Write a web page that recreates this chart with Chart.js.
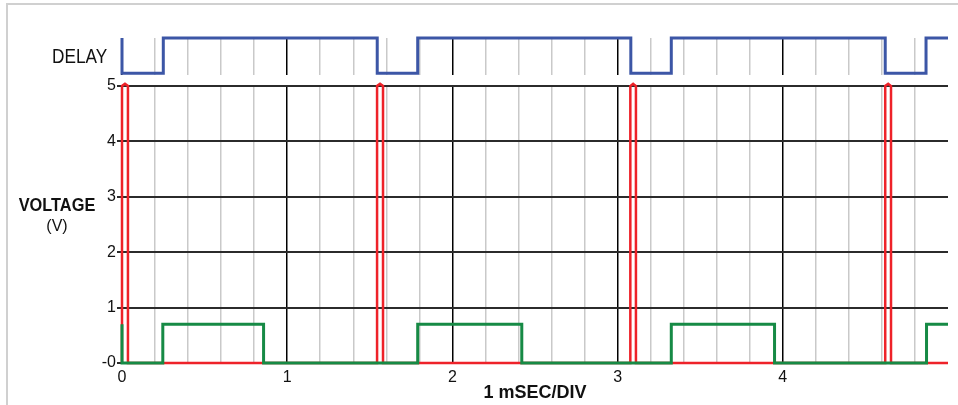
<!DOCTYPE html>
<html>
<head>
<meta charset="utf-8">
<script src="https://cdn.jsdelivr.net/npm/chart.js@4.4.1/dist/chart.umd.min.js"></script>
<style>
  html, body { margin: 0; padding: 0; background: #fff; }
  #wrap { position: relative; width: 958px; height: 405px; overflow: hidden; }
  #frame { position: absolute; left: 6px; top: 3px; width: 960px; height: 410px;
           border-left: 2px solid #d0d0d0; border-top: 2px solid #d0d0d0; }
  canvas { position: absolute; left: 0; top: 0; }
</style>
</head>
<body>
<div id="wrap">
  <div id="frame"></div>
  <canvas id="voltChart" width="958" height="405"></canvas>
  <canvas id="delayChart" width="958" height="82"></canvas>
</div>
<script>
// time in divisions (1 mSEC/DIV)
const delayTimes  = [0, 0, 0.25, 0.25, 1.545, 1.545, 1.79, 1.79, 3.08, 3.08, 3.325, 3.325, 4.62, 4.62, 4.867, 4.867, 5.0];
const delayLevels = [1, 0, 0,    1,    1,     0,     0,    1,    1,    0,    0,     1,     1,    0,    0,     1,     1];

const redTimes  = [0, 0, 0.018, 0.036, 0.036, 1.544, 1.544, 1.562, 1.58, 1.58, 3.077, 3.077, 3.094, 3.111, 3.111, 4.62, 4.62, 4.638, 4.655, 4.655, 5.0];
const redVolts  = [0, 5, 5.04,  5,     0,     0,     5,     5.04,  5,    0,    0,     5,     5.04,  5,     0,     0,    5,    5.04,  5,     0,     0];

const greenTimes = [0,   0, 0.247, 0.247, 0.857, 0.857, 1.79, 1.79, 2.42, 2.42, 3.325, 3.325, 3.95, 3.95, 4.87, 4.87, 5.0];
const greenVolts = [0.7, 0, 0,     0.7,   0.7,   0,     0,    0.7,  0.7,  0,    0,     0.7,   0.7,  0,    0,    0.7,  0.7];

const voltTicks = [0, 1, 2, 3, 4, 5];
const timeLabels = ['0', '1', '2', '3', '4'];

const sans = '"Liberation Sans", Arial, sans-serif';

function pts(xs, ys) {
    return xs.map((x, i) => ({x: x, y: ys[i]}));
}

function isWhole(v) {
    return Math.abs(v - Math.round(v)) < 1e-6;
}

function gridColor(ctx) {
    const v = ctx.tick.value;
    if (v > 4.99) return 'rgba(0,0,0,0)';
    return isWhole(v) ? '#000' : '#c9c9c9';
}

// narrow text: squeeze a normal face horizontally
function narrowText(ctx, text, x, y, font, squeeze) {
    ctx.save();
    ctx.font = font;
    ctx.translate(x, y);
    ctx.scale(squeeze, 1);
    ctx.fillText(text, 0, 0);
    ctx.restore();
}

function timeAxis(showLabels) {
    return {
        type: 'linear',
        min: 0,
        max: 5,
        border: {display: false},
        grid: {color: gridColor, lineWidth: 1.5, drawTicks: false},
        ticks: {
            display: showLabels,
            stepSize: 0.2,
            autoSkip: false,
            maxRotation: 0,
            padding: 5,
            color: '#111',
            font: {family: sans, size: 16},
            callback: function(v) {
                if (!isWhole(v)) return '';
                const i = Math.round(v);
                return i < timeLabels.length ? timeLabels[i] : '';
            }
        }
    };
}

const sideLabels = {
    id: 'sideLabels',
    afterDraw(chart) {
        const ctx = chart.ctx;
        ctx.save();
        ctx.fillStyle = '#111';
        ctx.textAlign = 'center';
        narrowText(ctx, 'VOLTAGE', 57, 211, 'bold 19px ' + sans, 0.86);
        ctx.font = '16px ' + sans;
        ctx.fillText('(V)', 57, 231);
        ctx.restore();
    }
};

const delayLabel = {
    id: 'delayLabel',
    afterDraw(chart) {
        const ctx = chart.ctx;
        ctx.save();
        ctx.fillStyle = '#111';
        ctx.textAlign = 'left';
        narrowText(ctx, 'DELAY', 52, 63, '20px ' + sans, 0.86);
        ctx.restore();
    }
};

const xVolt = timeAxis(true);
xVolt.title = {
    display: true,
    text: '1 mSEC/DIV',
    color: '#111',
    font: {family: sans, size: 18, weight: 'bold'},
    padding: {top: 0, bottom: 1}
};
xVolt.afterFit = function(scale) { scale.height = 42; };

new Chart(document.getElementById('voltChart').getContext('2d'), {
    type: 'line',
    data: {
        datasets: [{
            label: 'green',
            data: pts(greenTimes, greenVolts),
            borderColor: '#168a45',
            borderWidth: 3,
            pointRadius: 0,
            tension: 0,
            clip: false
        }, {
            label: 'red',
            data: pts(redTimes, redVolts),
            borderColor: '#ee2229',
            borderWidth: 2.5,
            pointRadius: 0,
            tension: 0,
            clip: false
        }]
    },
    options: {
        responsive: false,
        animation: false,
        events: [],
        layout: {padding: {left: 62, right: 10, top: 86, bottom: 0}},
        plugins: {legend: {display: false}, tooltip: {enabled: false}},
        scales: {
            x: xVolt,
            y: {
                min: 0,
                max: 5,
                border: {display: false},
                grid: {color: '#2b2b2b', lineWidth: 2, tickLength: 5, tickColor: '#2b2b2b'},
                afterBuildTicks: function(scale) {
                    scale.ticks = voltTicks.map(v => ({value: v}));
                },
                afterFit: function(scale) { scale.width = 60; },
                ticks: {
                    padding: 1,
                    color: '#111',
                    font: {family: sans, size: 16},
                    callback: v => v === 0 ? '-0' : String(v)
                }
            }
        }
    },
    plugins: [sideLabels]
});

const xDelay = timeAxis(false);
xDelay.afterFit = function(scale) { scale.height = 0; };

new Chart(document.getElementById('delayChart').getContext('2d'), {
    type: 'line',
    data: {
        datasets: [{
            label: 'DELAY',
            data: pts(delayTimes, delayLevels),
            borderColor: '#3c56a6',
            borderWidth: 3,
            pointRadius: 0,
            tension: 0,
            clip: false
        }]
    },
    options: {
        responsive: false,
        animation: false,
        events: [],
        layout: {padding: {left: 122, right: 10, top: 38, bottom: 7}},
        plugins: {legend: {display: false}, tooltip: {enabled: false}},
        scales: {
            x: xDelay,
            y: {display: false, min: -0.05, max: 1}
        }
    },
    plugins: [delayLabel]
});
</script>
</body>
</html>
